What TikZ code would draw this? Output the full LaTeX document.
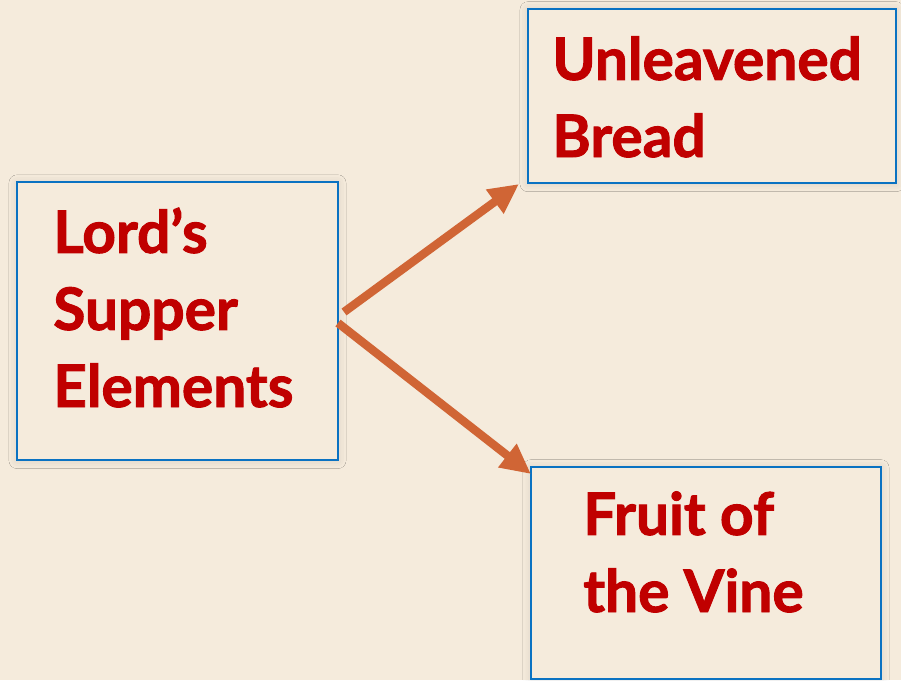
\documentclass[tikz,border=0pt]{standalone}
\usepackage{fontspec}
\setmainfont{Lato}[BoldFeatures={FakeBold=1.6}]
\usepackage{xcolor}
\usetikzlibrary{arrows.meta,shadows.blur}
\definecolor{bg}{HTML}{F5EBDC}
\definecolor{boxline}{HTML}{0A72C2}
\definecolor{wine}{HTML}{C00000}
\definecolor{arr}{HTML}{D06535}

\begin{document}
\begin{tikzpicture}[x=0.025cm, y=-0.025cm,
    box/.style={draw=boxline, line width=1.4pt, fill=bg, inner sep=0pt,
      blur shadow={shadow xshift=0pt, shadow yshift=-0.5pt, shadow blur radius=2mm, shadow opacity=12}},
    lbl/.style={text=wine, font=\bfseries\fontsize{41.7}{54.8}\selectfont, align=left,
      anchor=base west, inner sep=0pt},
    arw/.style={draw=arr, line width=0.21cm, -{Triangle[length=0.75cm, width=0.7cm]}}]
    \fill[bg] (0,0) rectangle (901,680);
    \useasboundingbox (0,0) rectangle (901,680);
    % boxes
    \node[box, minimum width=8.025cm, minimum height=6.94cm] (a) at (177.5,321) {};
    \node[box, minimum width=9.2cm, minimum height=4.35cm] (b) at (712,96) {};
    \node[box, minimum width=8.75cm, minimum height=5.3cm] (c) at (706,573) {};
    % labels
    \node[lbl] (ta) at (53,407) {Lord’s\\Supper\\Elements};
    \node[lbl] (tb) at (552,157) {Unleavened\\Bread};
    \node[lbl] (tc) at (583,612) {Fruit of\\the Vine};
    % arrows
    \draw[arw] ([shift={(5,-9)}]a.east) to ([shift={(-8,0)}]b.south west);
    \draw[arw] ([shift={(-1,2)}]a.east) to ([shift={(1,8)}]c.north west);
\end{tikzpicture}
\end{document}
